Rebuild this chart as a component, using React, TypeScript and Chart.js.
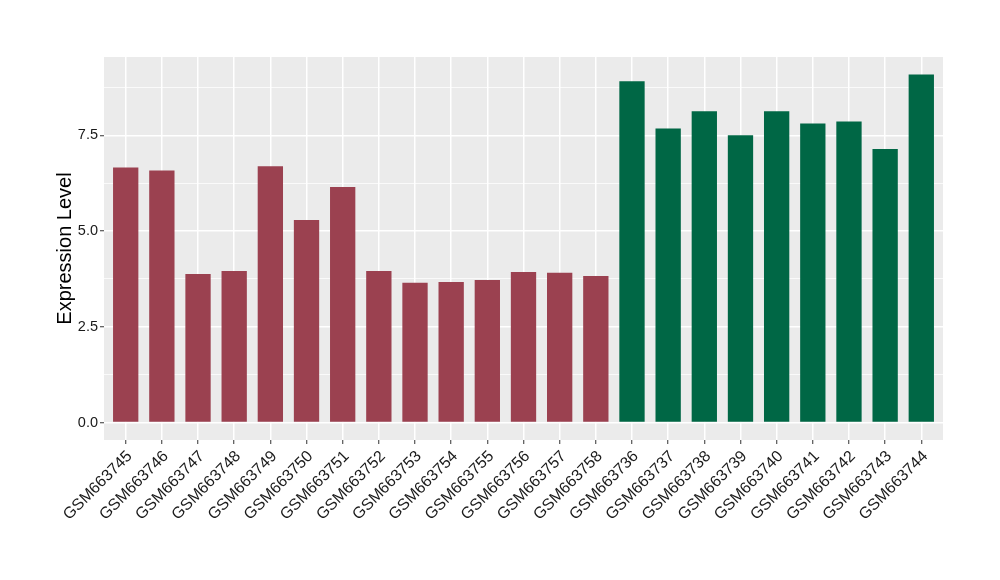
import React, { useEffect, useRef } from "react";
import { Chart, registerables } from "chart.js";

Chart.register(...registerables);

const samples = [
  "GSM663745", "GSM663746", "GSM663747", "GSM663748", "GSM663749", "GSM663750",
  "GSM663751", "GSM663752", "GSM663753", "GSM663754", "GSM663755", "GSM663756",
  "GSM663757", "GSM663758", "GSM663736", "GSM663737", "GSM663738", "GSM663739",
  "GSM663740", "GSM663741", "GSM663742", "GSM663743", "GSM663744",
];
const values = [
  6.66, 6.58, 3.88, 3.96, 6.69, 5.29, 6.15, 3.96, 3.65, 3.67, 3.72, 3.93,
  3.91, 3.83, 8.91, 7.68, 8.13, 7.50, 8.13, 7.81, 7.86, 7.14, 9.09,
];
const groups = [
  "a", "a", "a", "a", "a", "a", "a", "a", "a", "a", "a", "a", "a", "a",
  "b", "b", "b", "b", "b", "b", "b", "b", "b",
];
const groupColors: Record<string, string> = { a: "#9B4150", b: "#006745" };
const yMajorTicks = [0, 2.5, 5.0, 7.5];
const yMinorTicks = [1.25, 3.75, 6.25, 8.75];

const FONT = "'Liberation Sans', Arial, Helvetica, sans-serif";

const panelBg = {
  id: "panelBg",
  beforeDraw(chart: any) {
    const { ctx, chartArea } = chart;
    ctx.save();
    ctx.fillStyle = "#EBEBEB";
    ctx.fillRect(chartArea.left, chartArea.top, chartArea.right - chartArea.left, chartArea.bottom - chartArea.top);
    ctx.restore();
  },
};

export default function App() {
  const ref = useRef<HTMLCanvasElement | null>(null);

  useEffect(() => {
    if (!ref.current) return;
    const maxV = Math.max(...values);
    const pad = maxV * 0.05;
    const n = samples.length;
    const allY = [...yMajorTicks, ...yMinorTicks].sort((a, b) => a - b);
    const isMajor = (v: number) => yMajorTicks.some((m) => Math.abs(m - v) < 1e-6);

    const chart = new Chart(ref.current, {
      type: "bar",
      data: {
        datasets: [
          {
            data: values.map((v, i) => ({ x: i, y: v })),
            backgroundColor: groups.map((g) => groupColors[g]),
            borderWidth: 0,
            barPercentage: 0.7,
            categoryPercentage: 1.0,
          },
        ],
      },
      plugins: [panelBg],
      options: {
        animation: false,
        responsive: false,
        maintainAspectRatio: false,
        layout: { padding: { left: 0, top: 57, right: 57, bottom: 0 } },
        plugins: { legend: { display: false }, tooltip: { enabled: false } },
        scales: {
          x: {
            type: "linear",
            offset: false,
            min: -0.6,
            max: n - 1 + 0.6,
            afterBuildTicks: (scale: any) => {
              scale.ticks = samples.map((_, i) => ({ value: i }));
            },
            afterFit: (scale: any) => {
              scale.height = 140;
            },
            border: { display: false },
            grid: {
              offset: false,
              color: "#FFFFFF",
              lineWidth: 1.5,
              tickColor: "#333333",
              tickLength: 4,
              tickWidth: 1,
            },
            ticks: {
              autoSkip: false,
              minRotation: 45,
              maxRotation: 45,
              padding: 3,
              labelOffset: 4,
              color: "#1A1A1A",
              font: { family: FONT, size: 16 },
              callback: (_v: any, i: number) => samples[i],
            },
          },
          y: {
            type: "linear",
            min: -pad,
            max: maxV + pad,
            afterBuildTicks: (scale: any) => {
              scale.ticks = allY.map((v) => ({ value: v }));
            },
            afterFit: (scale: any) => {
              scale.width = 104;
            },
            border: { display: false },
            grid: {
              color: "#FFFFFF",
              lineWidth: (ctx: any) => (isMajor(ctx.tick?.value) ? 1.5 : 0.75),
              tickColor: (ctx: any) => (isMajor(ctx.tick?.value) ? "#333333" : "rgba(0,0,0,0)"),
              tickLength: 4,
              tickWidth: 1,
            },
            ticks: {
              padding: 2,
              color: "#1A1A1A",
              font: { family: FONT, size: 14.5 },
              callback: (v: any) => (isMajor(Number(v)) ? Number(v).toFixed(1) : ""),
            },
            title: {
              display: true,
              text: "Expression Level",
              color: "#000000",
              font: { family: FONT, size: 20 },
              padding: { top: 53, bottom: 0 },
            },
          },
        },
      },
    } as any);
    return () => chart.destroy();
  }, []);

  return (
    <div style={{ position: "absolute", left: 0, top: 0, width: 1000, height: 580, background: "#fff" }}>
      <canvas ref={ref} width={1000} height={580} style={{ width: 1000, height: 580, display: "block" }} />
    </div>
  );
}
